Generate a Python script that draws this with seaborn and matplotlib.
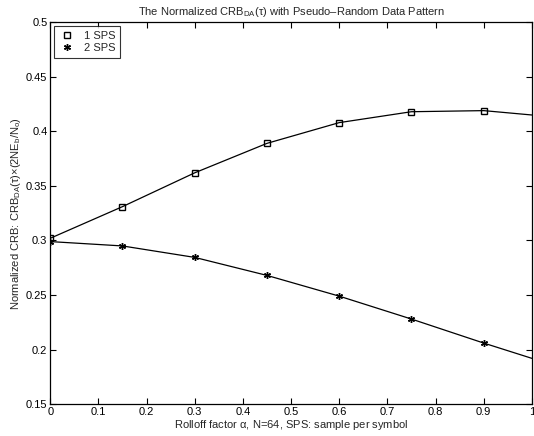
import matplotlib
matplotlib.use("Agg")
import matplotlib.pyplot as plt
import seaborn as sns
import pandas as pd
from matplotlib.lines import Line2D

# values
alpha = [0.0, 0.15, 0.30, 0.45, 0.60, 0.75, 0.90, 1.00]
crb_1sps = [0.302, 0.331, 0.362, 0.389, 0.408, 0.418, 0.419, 0.415]
crb_2sps = [0.299, 0.295, 0.2845, 0.268, 0.249, 0.228, 0.206, 0.192]
series_names = ["1 SPS", "2 SPS"]
x_ticks = [0, 0.1, 0.2, 0.3, 0.4, 0.5, 0.6, 0.7, 0.8, 0.9, 1]
x_tick_labels = ["0", "0.1", "0.2", "0.3", "0.4", "0.5", "0.6", "0.7", "0.8", "0.9", "1"]
y_ticks = [0.15, 0.2, 0.25, 0.3, 0.35, 0.4, 0.45, 0.5]
y_tick_labels = ["0.15", "0.2", "0.25", "0.3", "0.35", "0.4", "0.45", "0.5"]

df = pd.DataFrame({"alpha": alpha, "1 SPS": crb_1sps, "2 SPS": crb_2sps})

sns.set_style("ticks")
plt.rcParams["font.family"] = ["Liberation Sans", "DejaVu Sans"]
plt.rcParams["mathtext.fontset"] = "custom"
plt.rcParams["mathtext.rm"] = "Liberation Sans"
plt.rcParams["mathtext.it"] = "Liberation Sans"

fig = plt.figure(figsize=(5.34, 4.36), dpi=100)
ax = fig.add_axes([0.094, 0.073, 0.902, 0.876])

markers = {"1 SPS": "s", "2 SPS": (6, 2, 0)}
marker_sizes = {"1 SPS": 4.5, "2 SPS": 5}
for name in series_names:
    sns.lineplot(data=df, x="alpha", y=name, ax=ax, color="black", lw=0.9,
                 marker=markers[name], markevery=list(range(7)),
                 mfc="none", mec="black", mew=1.0, ms=marker_sizes[name])

ax.set_xlim(0, 1)
ax.set_ylim(0.15, 0.5)
ax.set_xticks(x_ticks)
ax.set_xticklabels(x_tick_labels)
ax.set_yticks(y_ticks)
ax.set_yticklabels(y_tick_labels)
ax.tick_params(direction="in", top=True, right=True, length=4, width=0.8,
               labelsize=8, pad=2, colors="black")
for s in ax.spines.values():
    s.set_linewidth(0.9)
    s.set_color("black")

ax.set_title(r"The Normalized CRB$_{DA}$($\tau$) with Pseudo–Random Data Pattern",
             fontsize=8, pad=5)
ax.set_xlabel(r"Rolloff factor $\alpha$, N=64, SPS: sample per symbol", fontsize=8, labelpad=1)
ax.set_ylabel(r"Normalized CRB: CRB$_{DA}$($\tau$)$\times$(2NE$_b$/N$_o$)", fontsize=8, labelpad=2)

handles = [Line2D([], [], ls="none", marker=markers[n], mfc="none", mec="black",
                  mew=1.0, ms=marker_sizes[n], color="black") for n in series_names]
leg = ax.legend(handles, series_names, loc="upper left", fontsize=8, frameon=True,
                fancybox=False, edgecolor="black", handlelength=1.6, handletextpad=0.7,
                borderpad=0.4, labelspacing=0.25, borderaxespad=0.35)
leg.get_frame().set_linewidth(0.8)

fig.savefig("out.png", dpi=100)
